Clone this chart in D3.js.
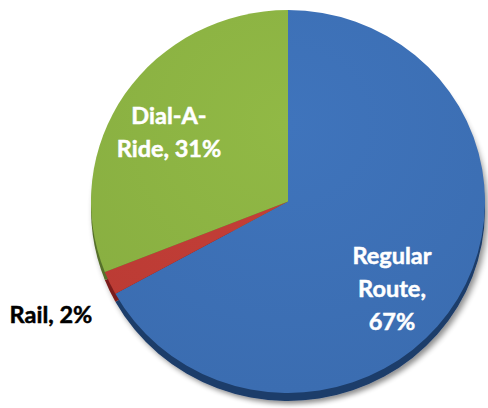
<!DOCTYPE html>
<html>
<head>
<meta charset="utf-8">
<script src="https://cdn.jsdelivr.net/npm/d3@7"></script>
<style>
  html, body { margin: 0; padding: 0; background: #fff; }
  svg { display: block; }
</style>
</head>
<body>
<svg id="chart" width="488" height="408"></svg>
<script>
// Share of trips by mode
const categories = ["Regular Route", "Rail", "Dial-A-Ride"];
const shares = [67, 2, 31];
const labelLines = [["Regular", "Route,", "67%"], ["Rail, 2%"], ["Dial-A-", "Ride, 31%"]];

const topColors  = ["#3d71b7", "#c13d36", "#8db443"];
const sideColors = ["#1f3d6a", "#7a1f1b", "#55702a"];

const cx = 288, cy = 201.5, rx = 197, ry = 191.5, depth = 8;

const svg = d3.select("#chart");
const defs = svg.append("defs");

const shadow = defs.append("filter").attr("id", "shadow")
  .attr("x", "-10%").attr("y", "-10%").attr("width", "130%").attr("height", "130%");
shadow.append("feGaussianBlur").attr("in", "SourceAlpha").attr("stdDeviation", 3).attr("result", "b");
shadow.append("feOffset").attr("in", "b").attr("dx", 3).attr("dy", 3).attr("result", "o");
shadow.append("feComponentTransfer").attr("in", "o").attr("result", "s")
  .append("feFuncA").attr("type", "linear").attr("slope", 0.45);
const merge = shadow.append("feMerge");
merge.append("feMergeNode").attr("in", "s");
merge.append("feMergeNode").attr("in", "SourceGraphic");

// soft shading on each face
topColors.forEach((c, i) => {
  const g = defs.append("radialGradient").attr("id", "g" + i)
    .attr("gradientUnits", "userSpaceOnUse")
    .attr("cx", 0).attr("cy", -rx * 0.4).attr("r", rx * 1.4);
  g.append("stop").attr("offset", "0%").attr("stop-color", d3.color(c).brighter(0.08));
  g.append("stop").attr("offset", "100%").attr("stop-color", d3.color(c).darker(0.1));
});

const pie = d3.pie().sort(null).value(d => d)
  .startAngle(0).endAngle(2 * Math.PI);
const arcs = pie(shares);
const arc = d3.arc().innerRadius(0).outerRadius(rx);

// side wall: the same pie dropped by the depth
const sideG = svg.append("g")
  .attr("transform", `translate(${cx},${cy + depth}) scale(1,${ry / rx})`)
  .attr("filter", "url(#shadow)");
sideG.selectAll("path").data(arcs).join("path")
  .attr("d", arc)
  .attr("fill", (d, i) => sideColors[i]);

// top face
const faceG = svg.append("g")
  .attr("transform", `translate(${cx},${cy}) scale(1,${ry / rx})`);
faceG.selectAll("path").data(arcs).join("path")
  .attr("d", arc)
  .attr("fill", (d, i) => `url(#g${i})`);

// labels
const fontSize = 23.5, lineH = 33;
const labelPos = [
  { x: 392, y: 264, fill: "#ffffff" },
  { x: 51,  y: 323, fill: "#000000" },
  { x: 169, y: 124, fill: "#ffffff" }
];
const labels = svg.append("g")
  .attr("font-family", "Lato, 'Open Sans', sans-serif")
  .attr("font-weight", 700)
  .attr("font-size", fontSize)
  .attr("text-anchor", "middle");
labelLines.forEach((lines, i) => {
  const p = labelPos[i];
  const t = labels.append("text").attr("x", p.x).attr("y", p.y).attr("fill", p.fill)
    .attr("stroke", p.fill).attr("stroke-width", 0.5);
  lines.forEach((ln, j) => {
    t.append("tspan").attr("x", p.x).attr("y", p.y + j * lineH).text(ln);
  });
});
</script>
</body>
</html>
